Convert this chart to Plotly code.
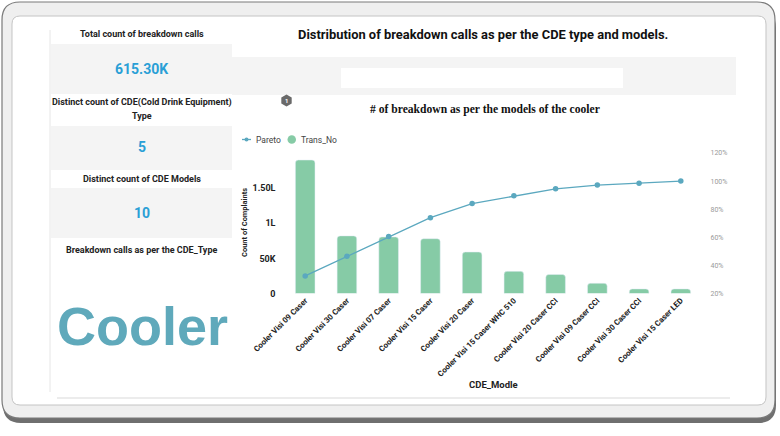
import plotly.graph_objects as go
import math

# ---------------- data ----------------
models = [
    "Cooler Visi 09 Caser", "Cooler Visi 30 Caser", "Cooler Visi 07 Caser",
    "Cooler Visi 15 Caser", "Cooler Visi 20 Caser", "Cooler Visi 15 Caser WHC 510",
    "Cooler Visi 20 Caser CCI", "Cooler Visi 09 Caser CCI", "Cooler Visi 30 Caser CCI",
    "Cooler Visi 15 Caser LED",
]
trans_no = [190000, 82000, 80500, 78000, 59000, 31500, 27000, 14500, 6500, 6500]
pareto = [0.325, 0.465, 0.605, 0.740, 0.840, 0.895, 0.945, 0.972, 0.985, 1.000]

left_tickvals = [0, 50000, 100000, 150000]
left_ticktext = ["0", "50K", "1L", "1.50L"]
right_tickvals = [0.2, 0.4, 0.6, 0.8, 1.0, 1.2]

kpi_total = "615.30K"
kpi_types = "5"
kpi_models = "10"
cde_type = "Cooler"

W, H = 780, 436
def px(x): return x / W
def py(y): return 1 - y / H

BAR = "#86cba6"
LINE = "#5ba8bf"
BLUE = "#2a9fd6"

fig = go.Figure()
fig.add_trace(go.Bar(x=models, y=trans_no, name="Trans_No",
                     marker=dict(color=BAR, cornerradius=3), yaxis="y"))
fig.add_trace(go.Scatter(x=models, y=pareto, name="Pareto", mode="lines+markers",
                         line=dict(color=LINE, width=1.3),
                         marker=dict(color=LINE, size=5.5), yaxis="y2"))

def rrect(x0, y0, x1, y1, r):
    pts = [
        ("M", [(x0 + r, y0)]), ("L", [(x1 - r, y0)]), ("Q", [(x1, y0), (x1, y0 + r)]),
        ("L", [(x1, y1 - r)]), ("Q", [(x1, y1), (x1 - r, y1)]), ("L", [(x0 + r, y1)]),
        ("Q", [(x0, y1), (x0, y1 - r)]), ("L", [(x0, y0 + r)]), ("Q", [(x0, y0), (x0 + r, y0)]),
    ]
    s = ""
    for c, ps in pts:
        s += c + " " + " ".join(f"{px(a):.5f},{py(b):.5f}" for a, b in ps) + " "
    return s + "Z"

shapes = []
def add_path(path, fill, line=None, lw=0):
    shapes.append(dict(type="path", path=path, xref="paper", yref="paper",
                       fillcolor=fill, line=dict(color=line or fill, width=lw), layer="below"))
def add_rect(x0, y0, x1, y1, fill, line=None, lw=0):
    shapes.append(dict(type="rect", x0=px(x0), x1=px(x1), y0=py(y1), y1=py(y0),
                       xref="paper", yref="paper", fillcolor=fill,
                       line=dict(color=line or fill, width=lw), layer="below"))

# bezel frame
add_path(rrect(3, 10, 776, 423, 18), "#6f6f6f")
add_path(rrect(2, 2, 775, 418, 18), "#efefef", "#7a7a7a", 1.2)
add_path(rrect(12, 16, 766, 405, 8), "#ffffff", "#c4c4c4", 1)

# left panel
shapes.append(dict(type="line", x0=px(50), x1=px(50), y0=py(30), y1=py(392),
                   xref="paper", yref="paper", line=dict(color="#e6e6e6", width=1), layer="below"))
shapes.append(dict(type="line", x0=px(57), x1=px(730), y0=py(398), y1=py(398),
                   xref="paper", yref="paper", line=dict(color="#e6e6e6", width=1.5), layer="below"))
add_rect(51, 44, 232, 94, "#f4f4f4")
add_rect(51, 126, 232, 170, "#f4f4f4")
add_rect(51, 188, 232, 238, "#f4f4f4")

# right header panels
add_rect(232, 57, 736, 95, "#f4f4f4")
add_rect(341, 68, 623, 88, "#ffffff")

# hexagon badge
hx, hy, hr = 286.5, 100.5, 6
hp = "M " + " L ".join(
    f"{px(hx + hr*math.cos(math.radians(a))):.5f},{py(hy + hr*math.sin(math.radians(a))):.5f}"
    for a in range(30, 390, 60)) + " Z"
shapes.append(dict(type="path", path=hp, xref="paper", yref="paper",
                   fillcolor="#6a6a6a", line=dict(color="#6a6a6a", width=0)))

# custom legend
shapes.append(dict(type="line", x0=px(242), x1=px(251), y0=py(139.5), y1=py(139.5),
                   xref="paper", yref="paper", line=dict(color=LINE, width=1.3)))
shapes.append(dict(type="circle", x0=px(244.5), x1=px(248.5), y0=py(141.5), y1=py(137.5),
                   xref="paper", yref="paper", fillcolor=LINE, line=dict(color=LINE, width=0)))
shapes.append(dict(type="circle", x0=px(287.5), x1=px(296), y0=py(143.7), y1=py(135.2),
                   xref="paper", yref="paper", fillcolor=BAR, line=dict(color=BAR, width=0)))

ann = []
def text(x, y, t, size, color="#222222", weight="bold", family="Roboto", xanchor="center", angle=0):
    ann.append(dict(x=px(x), y=py(y), xref="paper", yref="paper", text=t, showarrow=False,
                    xanchor=xanchor, yanchor="middle", textangle=angle,
                    font=dict(size=size, color=color, family=family, weight=weight)))

text(141.7, 34.3, "Total count of breakdown calls", 9)
text(141.7, 69.5, kpi_total, 14, BLUE)
text(141.7, 103, "Distinct count of CDE(Cold Drink Equipment)", 9)
text(141.7, 116.5, "Type", 9)
text(141.7, 146.7, kpi_types, 14, BLUE)
text(141.7, 179, "Distinct count of CDE Models", 9)
text(141.7, 212.7, kpi_models, 14, BLUE)
text(141.7, 250, "Breakdown calls as per the CDE_Type", 9)
text(142.5, 326, cde_type, 54, "#5fa9bb", family="Liberation Sans")

text(482.5, 34.5, "Distribution of breakdown calls as per the CDE type and models.", 12.9, "#111111")
text(485, 110, "# of breakdown as per the models of the cooler", 11.6, "#111111",
     family="Liberation Serif")
text(286.5, 100.7, "1", 6, "#ffffff")

text(253.5, 139.5, "Pareto", 8.5, "#444444", weight="normal", xanchor="left")
text(299, 139.5, "Trans_No", 8.5, "#444444", weight="normal", xanchor="left")

text(244, 223, "Count of Complaints", 7.5, "#222222", angle=-90)
text(493, 384.5, "CDE_Modle", 9.5, "#222222")

fig.update_layout(
    width=W, height=H, margin=dict(l=0, r=0, t=0, b=0, pad=0, autoexpand=False),
    paper_bgcolor="#ffffff", plot_bgcolor="rgba(0,0,0,0)",
    showlegend=False, bargap=0.53,
    shapes=shapes, annotations=ann,
    xaxis=dict(domain=[px(280.5), px(705.5)], tickangle=-45, showgrid=False, showline=False,
               zeroline=False, ticks="", automargin=False,
               tickfont=dict(size=7.9, family="Roboto", color="#222222", weight="bold")),
    yaxis=dict(domain=[py(293.5), py(153)], range=[0, 200000], tickvals=left_tickvals,
               ticktext=left_ticktext, showgrid=False, zeroline=False, showline=False,
               ticklabelstandoff=4, automargin=False,
               tickfont=dict(size=9, family="Roboto", color="#222222", weight="bold")),
    yaxis2=dict(overlaying="y", side="right", range=[0.2, 1.2], tickvals=right_tickvals,
                tickformat=".0%", showgrid=False, zeroline=False, showline=False,
                ticklabelstandoff=4, automargin=False,
                tickfont=dict(size=7, family="Roboto", color="#9a9a9a")),
)

fig.write_html("out.html")
